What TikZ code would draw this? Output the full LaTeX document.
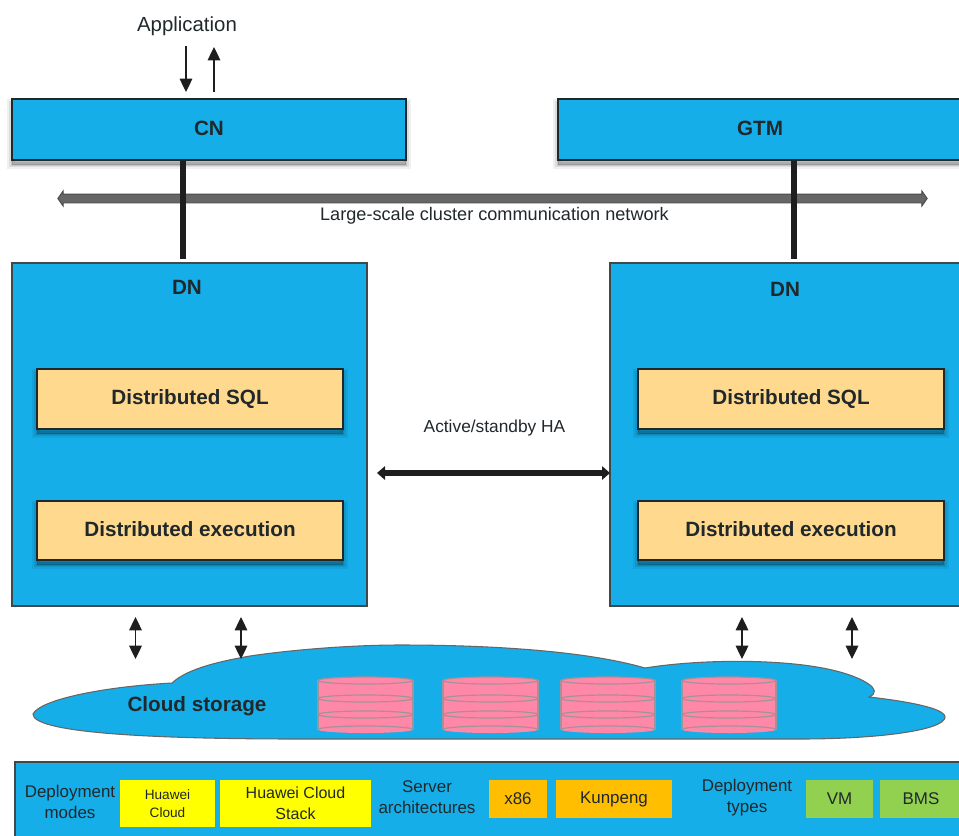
\documentclass[tikz,border=0pt]{standalone}
\usepackage{fontspec}
\setmainfont{Liberation Sans}
\usetikzlibrary{arrows.meta,shapes.arrows}
\definecolor{cblue}{HTML}{15AEE8}
\definecolor{corange}{HTML}{FFD98E}
\definecolor{cyellow}{HTML}{FFFF00}
\definecolor{camber}{HTML}{FFBE00}
\definecolor{cgreen}{HTML}{92D050}
\definecolor{cpink}{HTML}{FF88A8}
\definecolor{cink}{HTML}{20282C}
\definecolor{cline}{HTML}{1E1E1E}
\definecolor{cstor}{HTML}{A39398}
\newcommand{\bx}[6][]{%
  \pgfmathsetmacro{\bw}{(#5-#3)*0.75}%
  \pgfmathsetmacro{\bh}{(#6-#4)*0.75}%
  \node[#1,minimum width=\bw pt,minimum height=\bh pt,anchor=north west] (#2) at (#3,#4)}
\newcommand{\up}[1]{\raisebox{1.5pt}{#1}}
\newcommand{\stor}[2]{%
  \pgfmathsetmacro{\cx}{(#1+#2)/2}%
  \pgfmathsetmacro{\rx}{(#2-#1)/2}%
  \fill[cpink] (\cx,729.5) ellipse [x radius=\rx,y radius=3.5];
  \fill[cpink] (#1,680.5) rectangle (#2,729.5);
  \draw[storline] (#1,680.5) -- (#1,729.5) (#2,680.5) -- (#2,729.5);
  \draw[storline] (#1,729.5) arc [start angle=180,end angle=360,x radius=\rx,y radius=3.5];
  \draw[storline,fill=cpink] (\cx,680.5) ellipse [x radius=\rx,y radius=3.5];
  \draw[storline] (\cx,698.5) ellipse [x radius=\rx,y radius=3.5];
  \draw[storline] (\cx,714.5) ellipse [x radius=\rx,y radius=3.5];
}
\tikzset{
  x=0.75pt,y=-0.75pt,
  every node/.style={inner sep=0pt,outer sep=0pt,text=cink,align=center},
  soft shade/.style={
    preaction={draw=black,fill=black,opacity=.06,line width=7pt,transform canvas={yshift=-3.5pt}},
    preaction={draw=black,fill=black,opacity=.08,line width=4pt,transform canvas={yshift=-3.5pt}},
    preaction={draw=black,fill=black,opacity=.10,line width=1.5pt,transform canvas={yshift=-3.5pt}}},
  bluebox/.style={soft shade,draw=cink,line width=1pt,fill=cblue,font=\fontsize{15.5}{18}\selectfont\bfseries},
  panel/.style={draw=cink!85,line width=.8pt,fill=cblue},
  sandbox/.style={soft shade,draw=cink,line width=.8pt,fill=corange,font=\fontsize{15.5}{18}\selectfont\bfseries},
  yell/.style={fill=cyellow},
  amber/.style={fill=camber},
  leaf/.style={fill=cgreen},
  tiny/.style={font=\fontsize{10.2}{14}\selectfont},
  mid/.style={font=\fontsize{12.7}{15.8}\selectfont},
  midb/.style={font=\fontsize{12}{15.8}\selectfont},
  bigt/.style={font=\fontsize{15.5}{18}\selectfont\bfseries},
  thin arrow/.style={draw=cline,line width=.9pt,-{Triangle[length=10pt,width=9.5pt]}},
  both arrow/.style={draw=cline,line width=.9pt,{Triangle[length=10pt,width=9.5pt]}-{Triangle[length=10pt,width=9.5pt]}},
  pillar/.style={draw=cline,line width=4pt},
  ha arrow/.style={draw=cline,line width=4pt,{Triangle[length=6pt,width=10pt]}-{Triangle[length=6pt,width=10pt]}},
  net arrow/.style={double arrow,draw=cline!80,line width=.7pt,fill=black!60,minimum height=652pt,minimum width=10.5pt,
    inner ysep=3pt,inner xsep=0pt,double arrow head extend=2.25pt,double arrow tip angle=110},
  storline/.style={draw=cstor,line width=.9pt},
  cloudshape/.style={draw=black!60,line width=.8pt,fill=cblue},
}
\begin{document}
\begin{tikzpicture}
\useasboundingbox (0,0) rectangle (959,835);
\clip (0,0) rectangle (959,835);
% network bar behind pillars
\node[net arrow] (net) at (492.5,198.5) {};
\node[font=\fontsize{13.6}{16}\selectfont,anchor=center] (netlabel) at (494.5,216) {Large-scale cluster communication network};
% top
\node[font=\fontsize{15.3}{18}\selectfont] (app) at (187,26) {Application};
\bx[bluebox]{cn}{12}{99}{406}{160}{\up{CN}};
\bx[bluebox]{gtm}{558}{99}{962}{160}{\up{GTM}};
% DN panels
\bx[panel]{dnl}{12}{263}{367}{606}{};
\bx[panel]{dnr}{610}{263}{964}{606}{};
\node[bigt] (dnltext) at (187,287) {DN};
\node[bigt] (dnrtext) at (785,289) {DN};
\bx[sandbox]{sqll}{37}{369}{343}{429}{\up{Distributed SQL}};
\bx[sandbox]{exl}{37}{501}{343}{560}{\up{Distributed execution}};
\bx[sandbox]{sqlr}{638}{369}{944}{429}{\up{Distributed SQL}};
\bx[sandbox]{exr}{638}{501}{944}{560}{\up{Distributed execution}};
% pillars
\coordinate (pl) at (183,259);
\coordinate (pr) at (794,259);
\draw[pillar] (183,161) -- (pl);
\draw[pillar] (794,161) -- (pr);
% HA
\node[font=\fontsize{13}{16}\selectfont] (ha) at (494.5,428) {Active/standby HA};
\draw[ha arrow] (dnl.east |- 0,473) ++(10,0) coordinate (hal) -- (hal -| dnr.west);
% application arrows
\coordinate (a1) at (186,46);
\coordinate (a2) at (214,92);
\draw[thin arrow] (a1) -- (186,92);
\draw[thin arrow] (a2) -- (214,47);
% cloud
\path[cloudshape] (33,714)
  .. controls (40,700) and (100,687) .. (172,683)
  .. controls (188,668) and (222,661) .. (250,656)
  .. controls (290,650) and (350,645) .. (400,645)
  .. controls (500,645) and (590,652) .. (645,668)
  .. controls (700,659) and (790,658) .. (840,672)
  .. controls (862,678) and (885,690) .. (869,697)
  .. controls (905,701) and (945,708) .. (945,717)
  .. controls (945,730) and (880,739) .. (800,739)
  -- (300,739)
  .. controls (140,739) and (33,732) .. (33,714) -- cycle;
\node[font=\fontsize{15.5}{18}\selectfont\bfseries] (cloudtext) at (197,706) {Cloud storage};
\stor{318}{413}
\stor{443}{538}
\stor{561}{655}
\stor{682}{776}
% storage arrows
\coordinate (s1a) at (135.5,617); \coordinate (s1b) at (135.5,659);
\coordinate (s2a) at (241,617);   \coordinate (s2b) at (241,659);
\coordinate (s3a) at (742,617);   \coordinate (s3b) at (742,659);
\coordinate (s4a) at (852,617);   \coordinate (s4b) at (852,659);
\draw[both arrow] (s1a) -- (s1b);
\draw[both arrow] (s2a) -- (s2b);
\draw[both arrow] (s3a) -- (s3b);
\draw[both arrow] (s4a) -- (s4b);
% bottom bar
\bx[panel]{bar}{15}{762}{975}{850}{};
\node[mid] (dm) at (70,802) {Deployment\\modes};
\bx[yell,tiny]{hc}{120}{780}{215}{827}{Huawei\\Cloud};
\bx[yell,midb]{hcs}{220}{780}{371}{827}{Huawei Cloud\\Stack};
\node[mid] (sa) at (427,797) {Server\\architectures};
\bx[amber,mid]{x}{489}{780}{547}{818}{x86};
\bx[amber,mid]{kp}{556}{780}{672}{818}{Kunpeng};
\node[mid] (dt) at (747,798) {Deployment\\types};
\bx[leaf,mid]{vm}{806}{780}{873}{818}{VM};
\bx[leaf,mid]{bms}{880}{780}{962}{818}{BMS};
\end{tikzpicture}
\end{document}
